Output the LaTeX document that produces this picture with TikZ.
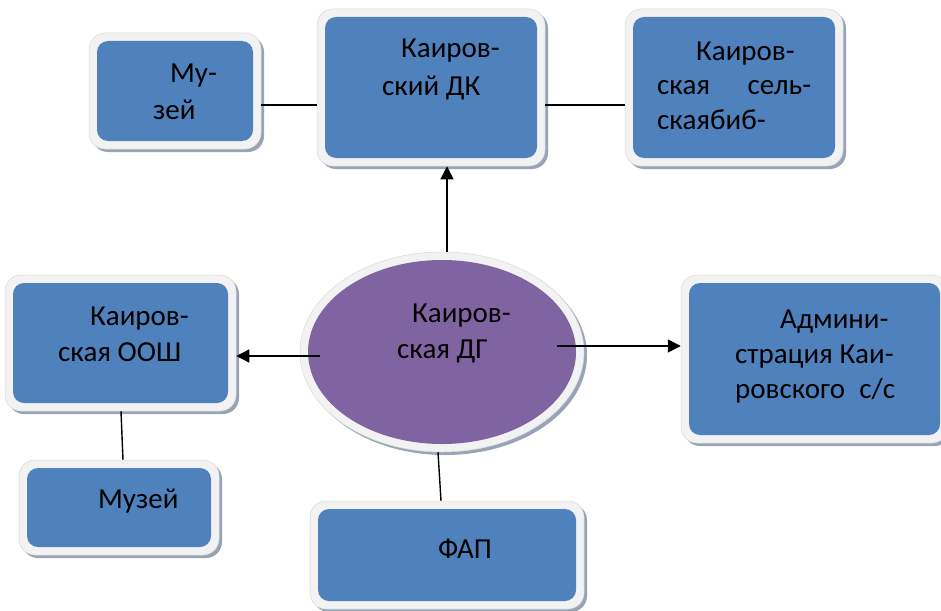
\documentclass[tikz,border=0pt]{standalone}
\usepackage{fontspec}
\setmainfont{Carlito}
\usetikzlibrary{arrows.meta,shapes.geometric,calc}
\definecolor{boxblue}{HTML}{4F81BD}
\definecolor{ellpurple}{HTML}{8064A2}
\definecolor{framegray}{HTML}{F2F2F2}
\definecolor{rimgray}{HTML}{D9D9D9}
\definecolor{shadowgray}{HTML}{98A4B6}
\tikzset{
  frame/.style={rectangle, rounded corners=16pt, fill=framegray, draw=rimgray, line width=0.5pt, inner sep=0pt},
  bluebox/.style={rectangle, rounded corners=11pt, fill=boxblue, draw=none, inner sep=0pt},
  txt/.style={inner sep=0pt, anchor=base west, text=black, font=\fontsize{29}{35}\selectfont},
  conn/.style={draw=black, line width=1.4pt},
  arr/.style={conn, -{Triangle[length=13pt,width=13pt]}},
}
\newcommand\bevbox[5]{%
  \fill[shadowgray, rounded corners=16pt] (#2+3,#3+3) rectangle (#4+3,#5+3);
  \node[frame, minimum width={#4-#2}, minimum height={#5-#3}] (#1) at ({(#2+#4)/2},{(#3+#5)/2}) {};
  \node[bluebox, minimum width={#4-#2-16}, minimum height={#5-#3-16}] (#1-in) at (#1.center) {};
}
\begin{document}
\begin{tikzpicture}[x=1pt,y=-1pt]
\useasboundingbox (0,0) rectangle (941,610);
\fill[white] (0,0) rectangle (941,610);

% boxes
\bevbox{mus1}{89}{33}{261}{149}
\bevbox{dk}{317}{9}{545}{166}
\bevbox{bibl}{625}{9}{843}{166}
\bevbox{adm}{681}{275}{948}{443}
\bevbox{oosh}{5}{275}{236}{411}
\bevbox{mus2}{19}{460}{219}{555}
\bevbox{fap}{310}{501}{584}{609}

% ellipse
\fill[shadowgray] (445,355) ellipse [x radius=142, y radius=100];
\node[ellipse, fill=framegray, draw=rimgray, line width=0.5pt, inner sep=0pt, minimum width=284, minimum height=200] (ell) at (442,352) {};
\node[ellipse, fill=ellpurple, inner sep=0pt, minimum width=268, minimum height=184] (ell-in) at (ell.center) {};

% texts
\node[txt] (t-m1a) at (170,82) {Му-};
\node[txt] (t-m1b) at (153,119) {зей};
\node[txt] (t-dka) at (401,58) {Каиров-};
\node[txt] (t-dkb) at (382,95) {ский ДК};
\node[txt] (t-bia) at (696,60) {Каиров-};
\node[txt] (t-bib) at (657,94) {\makebox[154pt][l]{ская\hfill сель-}};
\node[txt] (t-bic) at (657,129) {скаябиб-};
\node[txt] (t-ada) at (780,328) {Админи-};
\node[txt] (t-adb) at (735,363) {страция Каи-};
\node[txt] (t-adc) at (735,398) {\makebox[160pt][l]{ровского\hfill с/с}};
\node[txt] (t-ooa) at (90,325) {Каиров-};
\node[txt] (t-oob) at (58,361) {ская ООШ};
\node[txt] (t-ela) at (412,322) {Каиров-};
\node[txt] (t-elb) at (397,358) {ская ДГ};
\node[txt] (t-m2) at (98,508) {Музей};
\node[txt] (t-fap) at (438,558) {ФАП};

% connectors
\coordinate (ellT) at ([xshift=5pt]ell.north);
\coordinate (musR) at ([yshift=-14pt]mus1.east);
\coordinate (dkR) at ([yshift=-17.5pt]dk.east);
\coordinate (ellL) at (320,356);
\coordinate (ellR) at (557,346);
\draw[arr] (ellT) -- (ellT |- dk.south);
\draw[conn] (musR) -- (musR -| dk.west);
\draw[conn] (dkR) -- (dkR -| bibl.west);
\draw[arr] (ellL) -- (ellL -| oosh.east);
\draw[arr] (ellR) -- (ellR -| adm.west);
\draw[conn] ([xshift=0.5pt]oosh.south) -- ([xshift=4pt]mus2.north);
\draw[conn] ([xshift=-4pt]ell.south) -- ([xshift=-6pt]fap.north);
\end{tikzpicture}
\end{document}
